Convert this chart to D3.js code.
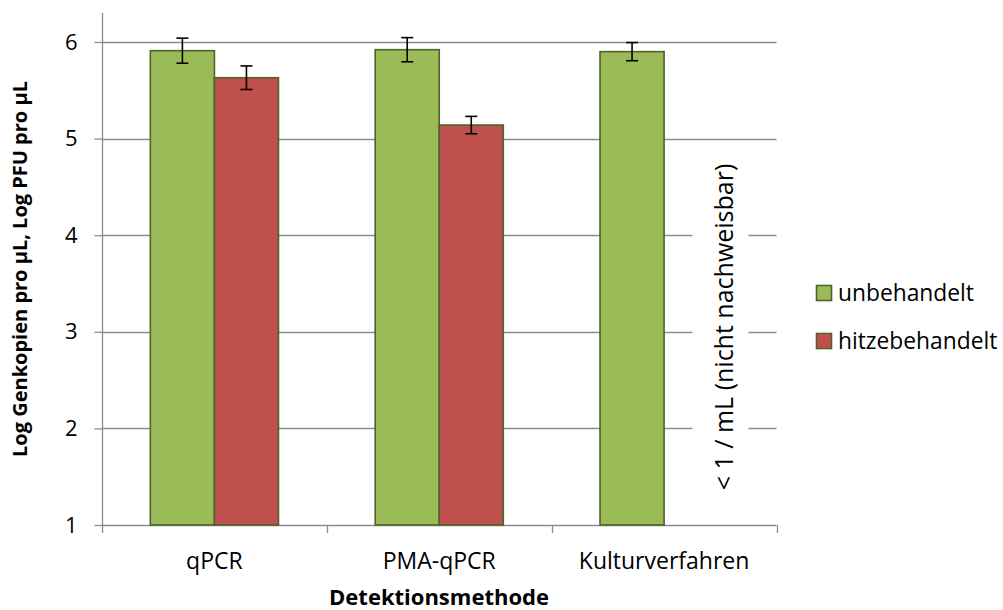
<!DOCTYPE html>
<html>
<head>
<meta charset="utf-8">
<script src="https://cdn.jsdelivr.net/npm/d3@7/dist/d3.min.js"></script>
<style>
  html, body { margin: 0; padding: 0; background: #fff; }
  svg { display: block; font-family: "Open Sans", sans-serif; }
</style>
</head>
<body>
<svg id="chart" width="1003" height="610"></svg>
<script>
const categories = ["qPCR", "PMA-qPCR", "Kulturverfahren"];
const seriesNames = ["unbehandelt", "hitzebehandelt"];
const unbehandelt = [5.91, 5.92, 5.90];
const unbehandeltErr = [0.13, 0.125, 0.094];
const hitzebehandelt = [5.63, 5.14, null];
const hitzebehandeltErr = [0.122, 0.09, null];
const yTicks = [1, 2, 3, 4, 5, 6];
const yTitle = "Log Genkopien pro µL, Log PFU pro µL";
const xTitle = "Detektionsmethode";
const note = "< 1 / mL (nicht nachweisbar)";
const colors = ["#9BBB59", "#C0504D"];
const borderColor = "#4F6228";

(function () {
const FONT = "'Open Sans', sans-serif";
const svg = d3.select("#chart");
const pLeft = 102, pRight = 776.5, pTop = 13, pBottom = 525;

const x = d3.scaleBand().domain(categories).range([pLeft, pRight]).paddingInner(0).paddingOuter(0);
const x1 = d3.scaleBand().domain(seriesNames).range([0, x.bandwidth()]).paddingInner(0).paddingOuter(0.755);
const y = d3.scaleLinear().domain([1, 6.3]).range([pBottom, pTop]);

// gridlines
svg.append("g").selectAll("line").data(yTicks.filter(d => d > 1)).join("line")
  .attr("x1", pLeft).attr("x2", pRight)
  .attr("y1", d => Math.round(y(d)) + 0.5).attr("y2", d => Math.round(y(d)) + 0.5)
  .attr("stroke", "#8c8c8c").attr("stroke-width", 1.3);

// y axis
const yAxis = svg.append("g").attr("transform", `translate(${pLeft + 0.5},0)`)
  .call(d3.axisLeft(y).tickValues(yTicks).tickSize(8).tickPadding(17).tickFormat(d3.format("d")));
yAxis.select(".domain").attr("stroke", "#8c8c8c").attr("stroke-width", 1.3).attr("d", `M0,${pTop}V${pBottom}`);
yAxis.selectAll(".tick line").attr("stroke", "#8c8c8c").attr("stroke-width", 1.3);
yAxis.selectAll(".tick text").attr("font-size", 22).attr("fill", "#000").attr("font-family", FONT);

// x axis
const xAxis = svg.append("g").attr("transform", `translate(0,${pBottom + 0.5})`)
  .call(d3.axisBottom(x).tickSize(0).tickPadding(27));
xAxis.select(".domain").attr("stroke", "#8c8c8c").attr("stroke-width", 1.3).attr("d", `M${pLeft},0H${pRight}`);
xAxis.selectAll(".tick text").attr("font-size", 23).attr("fill", "#000").attr("font-family", FONT);
// category boundary ticks
const bounds = [pLeft, ...categories.map(c => x(c) + x.bandwidth())];
svg.append("g").selectAll("line").data(bounds).join("line")
  .attr("x1", d => Math.round(d) + 0.5).attr("x2", d => Math.round(d) + 0.5)
  .attr("y1", pBottom).attr("y2", pBottom + 8)
  .attr("stroke", "#8c8c8c").attr("stroke-width", 1.3);

// note text with white background masking gridlines
svg.append("rect").attr("x", 692.5).attr("y", 150).attr("width", 56).attr("height", 352).attr("fill", "#fff");
svg.append("text").attr("transform", `translate(733,327) rotate(-90)`)
  .attr("text-anchor", "middle").attr("font-size", 25).attr("fill", "#000").text(note);

// bars
const data = [];
categories.forEach((c, i) => {
  data.push({ c, s: seriesNames[0], v: unbehandelt[i], e: unbehandeltErr[i], col: colors[0] });
  if (hitzebehandelt[i] != null) data.push({ c, s: seriesNames[1], v: hitzebehandelt[i], e: hitzebehandeltErr[i], col: colors[1] });
});
svg.append("g").selectAll("rect").data(data).join("rect")
  .attr("x", d => x(d.c) + x1(d.s))
  .attr("y", d => y(d.v))
  .attr("width", x1.bandwidth())
  .attr("height", d => y(1) - y(d.v))
  .attr("fill", d => d.col)
  .attr("stroke", borderColor).attr("stroke-width", 1.6);

// error bars
const eg = svg.append("g").attr("stroke", "#000").attr("stroke-width", 1.6);
data.forEach(d => {
  const cx = x(d.c) + x1(d.s) + x1.bandwidth() / 2;
  eg.append("line").attr("x1", cx).attr("x2", cx).attr("y1", y(d.v + d.e)).attr("y2", y(d.v - d.e));
  eg.append("line").attr("x1", cx - 6).attr("x2", cx + 6).attr("y1", y(d.v + d.e)).attr("y2", y(d.v + d.e));
  eg.append("line").attr("x1", cx - 6).attr("x2", cx + 6).attr("y1", y(d.v - d.e)).attr("y2", y(d.v - d.e));
});

// axis titles
svg.append("text").attr("transform", `translate(27,${(pTop + pBottom) / 2}) rotate(-90)`)
  .attr("text-anchor", "middle").attr("font-size", 20).attr("font-weight", "bold").attr("fill", "#000").text(yTitle);
svg.append("text").attr("x", 439).attr("y", 605)
  .attr("text-anchor", "middle").attr("font-size", 22).attr("font-weight", "bold").attr("fill", "#000").text(xTitle);

// legend
const lg = svg.append("g");
seriesNames.forEach((s, i) => {
  const ly = 285.5 + i * 48;
  lg.append("rect").attr("x", 816.5).attr("y", ly).attr("width", 15).attr("height", 15)
    .attr("fill", colors[i]).attr("stroke", borderColor).attr("stroke-width", 1.6);
  lg.append("text").attr("x", 838).attr("y", ly + 15.5)
    .attr("font-size", 22.8).attr("fill", "#000").text(s);
});
})();
</script>
</body>
</html>
